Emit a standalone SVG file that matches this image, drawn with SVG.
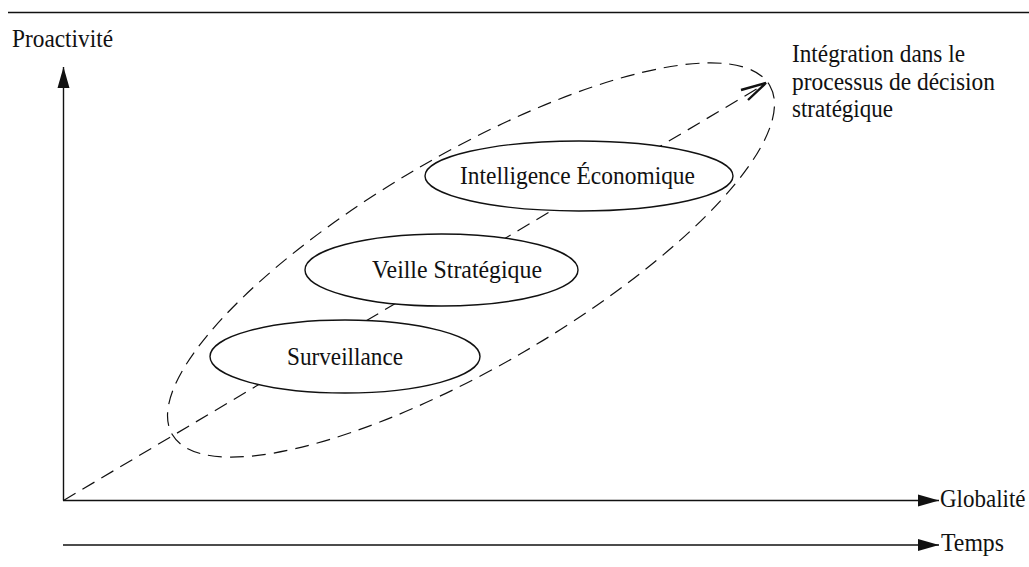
<svg xmlns="http://www.w3.org/2000/svg" width="1029" height="567" viewBox="0 0 1029 567">
<style>
text{font-family:"Liberation Serif","Times New Roman",serif;font-size:26px;fill:#111}
.ax{stroke:#111;stroke-width:1.4;fill:none}
.node{fill:#fff;stroke:#111;stroke-width:1.4}
.dash{stroke:#111;stroke-width:1.2;fill:none;stroke-dasharray:14 8}
</style>
<defs>
<marker id="tri" markerWidth="22" markerHeight="13" refX="21" refY="6.5" orient="auto" markerUnits="userSpaceOnUse">
<path d="M0,0.5 L21,6.5 L0,12.5 Z" fill="#111"/>
</marker>
</defs>
<line x1="8" y1="12.5" x2="1029" y2="12.5" class="ax"/>
<text x="12" y="47" textLength="101" lengthAdjust="spacingAndGlyphs">Proactivité</text>
<g id="connectors">
<line x1="63.5" y1="500.5" x2="63.5" y2="67" class="ax" marker-end="url(#tri)"/>
<line x1="63" y1="500.5" x2="939" y2="500.5" class="ax" marker-end="url(#tri)"/>
<line x1="63" y1="545" x2="939" y2="545" class="ax" marker-end="url(#tri)"/>
<line x1="63.5" y1="500.5" x2="765" y2="84" class="dash"/>
<polyline points="741,90 766,83 748,100" fill="none" stroke="#111" stroke-width="2.4"/>
</g>
<g id="envelope">
<ellipse cx="471" cy="260" rx="346" ry="106" transform="rotate(-30.3 471 260)" class="dash"/>
</g>
<g id="n-surveillance">
<ellipse cx="345" cy="356.5" rx="135" ry="36.5" class="node"/>
<text x="287" y="365" textLength="116" lengthAdjust="spacingAndGlyphs">Surveillance</text>
</g>
<g id="n-veille">
<ellipse cx="441.5" cy="270" rx="136.5" ry="36" class="node"/>
<text x="372" y="278" textLength="170" lengthAdjust="spacingAndGlyphs">Veille Stratégique</text>
</g>
<g id="n-ie">
<ellipse cx="579" cy="176" rx="154" ry="35" class="node"/>
<text x="460" y="184" textLength="235" lengthAdjust="spacingAndGlyphs">Intelligence Économique</text>
</g>
<g id="label-integration">
<text x="792" y="62" textLength="173" lengthAdjust="spacingAndGlyphs">Intégration dans le</text>
<text x="792" y="90" textLength="203" lengthAdjust="spacingAndGlyphs">processus de décision</text>
<text x="792" y="117" textLength="101" lengthAdjust="spacingAndGlyphs">stratégique</text>
</g>
<text x="940" y="507" style="font-size:23px" transform="translate(0 507) scale(1 1.12) translate(0 -507)">Globalité</text>
<text x="941" y="551" textLength="63" lengthAdjust="spacingAndGlyphs">Temps</text>
</svg>
